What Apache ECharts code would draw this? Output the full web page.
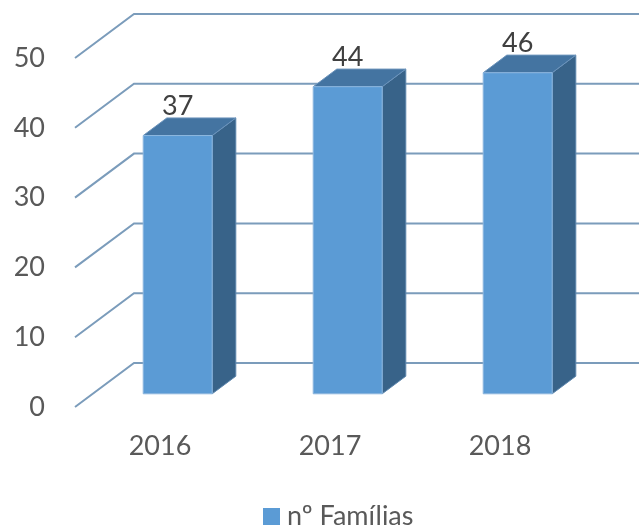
<!DOCTYPE html>
<html>
<head>
<meta charset="utf-8">
<style>
  html, body { margin: 0; padding: 0; background: #fff; }
  #chart { width: 639px; height: 527px; }
</style>
<script src="https://cdn.jsdelivr.net/npm/echarts@6/dist/echarts.min.js"></script>
</head>
<body>
<div id="chart"></div>
<script>
const categories = ['2016', '2017', '2018']
const familias = [37, 44, 46]
const yTicks = [0, 10, 20, 30, 40, 50]
const seriesName = 'nº Famílias'

// perspective offset from front plane to back wall
const DEPTH_X = 59
const DEPTH_Y = -44
const FONT = 'Lato, "Open Sans", sans-serif'

const chart = echarts.init(document.getElementById('chart'), null, { renderer: 'canvas' })

// back wall + side gridlines
function renderGrid(params, api) {
  const v = api.value(0)
  const p = api.coord([0, v])
  const band = api.size([1, 0])[0]
  const x0 = p[0] - band / 2
  const x1 = x0 + band * categories.length
  return {
    type: 'polyline',
    shape: {
      points: [
        [x0, p[1]],
        [x0 + DEPTH_X, p[1] + DEPTH_Y],
        [x1 + DEPTH_X, p[1] + DEPTH_Y],
      ],
    },
    style: { stroke: '#7b9cbb', lineWidth: 2, fill: null },
    silent: true,
  }
}

function renderBar(params, api) {
  const cat = api.value(0)
  const val = api.value(1)
  const base = api.coord([cat, 0])
  const top = api.coord([cat, val])
  const w = 69
  // bar occupies depth 0.3 .. 0.7
  const fx = DEPTH_X * 0.3, fy = DEPTH_Y * 0.3
  const dx = DEPTH_X * 0.4, dy = DEPTH_Y * 0.4
  const l = base[0] - w / 2 + fx
  const r = l + w
  const b = base[1] + fy
  const t = top[1] + fy
  const edge = '#8db7df'
  return {
    type: 'group',
    children: [
      {
        type: 'polygon',
        shape: { points: [[r, b], [r + dx, b + dy], [r + dx, t + dy], [r, t]] },
        style: { fill: '#386389', stroke: '#5d86ad', lineWidth: 1 },
      },
      {
        type: 'polygon',
        shape: { points: [[l, t], [r, t], [r + dx, t + dy], [l + dx, t + dy]] },
        style: { fill: '#4474a1', stroke: '#6b93bb', lineWidth: 1 },
      },
      {
        type: 'rect',
        shape: { x: l, y: t, width: w, height: b - t },
        style: { fill: '#5b9bd5', stroke: edge, lineWidth: 1 },
      },
      {
        type: 'text',
        style: {
          x: l + w / 2,
          y: t + dy - 12,
          text: String(val),
          fill: '#404040',
          font: '27px ' + FONT,
          align: 'center',
          verticalAlign: 'middle',
        },
      },
    ],
  }
}

chart.setOption({
  animation: false,
  grid: { left: 75, right: 54, top: 58, bottom: 120 },
  legend: {
    data: [{ name: seriesName, icon: 'rect' }],
    left: 258,
    top: 498,
    itemWidth: 17,
    itemHeight: 17,
    itemGap: 6,
    textStyle: { color: '#595959', fontSize: 27, fontFamily: FONT, padding: [0, 0, 0, 2] },
  },
  xAxis: {
    type: 'category',
    data: categories,
    axisLine: { show: false },
    axisTick: { show: false },
    axisLabel: { color: '#595959', fontSize: 27, fontFamily: FONT, margin: 26 },
  },
  yAxis: {
    type: 'value',
    min: 0,
    max: 50,
    interval: 10,
    axisLine: { show: false },
    axisTick: { show: false },
    splitLine: { show: false },
    axisLabel: { color: '#595959', fontSize: 27, fontFamily: FONT, margin: 30 },
  },
  series: [
    {
      type: 'custom',
      silent: true,
      clip: false,
      renderItem: renderGrid,
      data: yTicks.map(v => [v]),
      encode: { y: 0 },
      z: 1,
    },
    {
      name: seriesName,
      type: 'custom',
      renderItem: renderBar,
      itemStyle: { color: '#5b9bd5' },
      data: familias.map((v, i) => [i, v]),
      encode: { x: 0, y: 1 },
      clip: false,
      z: 2,
    },
  ],
})
</script>
</body>
</html>
